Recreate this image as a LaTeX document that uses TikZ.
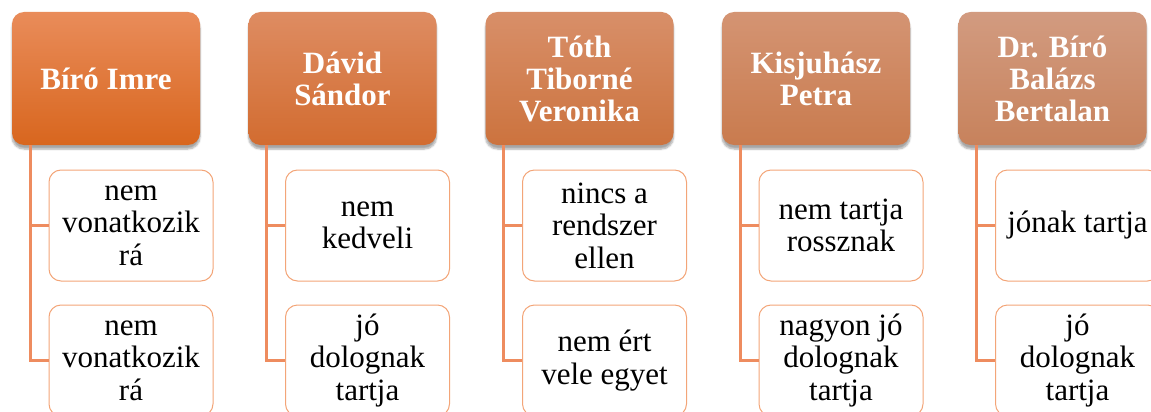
\documentclass[tikz,border=0pt]{standalone}
\usepackage{fontspec}
\setmainfont{Liberation Serif}
\usetikzlibrary{shadows.blur,calc}
\definecolor{h1t}{RGB}{233,140,90}
\definecolor{h1b}{RGB}{216,102,30}
\definecolor{h2t}{RGB}{222,140,98}
\definecolor{h2b}{RGB}{210,108,48}
\definecolor{h3t}{RGB}{216,143,105}
\definecolor{h3b}{RGB}{204,115,62}
\definecolor{h4t}{RGB}{212,148,115}
\definecolor{h4b}{RGB}{201,123,78}
\definecolor{h5t}{RGB}{210,155,128}
\definecolor{h5b}{RGB}{199,130,92}
\definecolor{leafc}{RGB}{243,165,120}
\definecolor{connc}{RGB}{238,140,95}
\begin{document}
\begin{tikzpicture}[x=1pt,y=-1pt,
  head/.style={rounded corners=12pt, minimum width=188pt, minimum height=133pt,
    text=white, font=\bfseries\fontsize{31}{32}\selectfont, align=center, inner sep=0pt,
    blur shadow={shadow xshift=0pt,shadow yshift=-4pt,shadow opacity=35,shadow blur steps=6,shadow blur extra rounding=2pt}},
  leaf/.style={draw=leafc, line width=1pt, rounded corners=12pt, fill=white,
    minimum width=164pt, minimum height=111pt, align=center, inner sep=0pt,
    font=\fontsize{31}{32.5}\selectfont, text=black},
  conn/.style={draw=connc, line width=3pt}]
\useasboundingbox (0,0) rectangle (1151,412);
\clip (0,0) rectangle (1151,412);

% headers
\node[head, top color=h1t, bottom color=h1b] (h1) at (106,78.5) {Bíró Imre};
\node[head, top color=h2t, bottom color=h2b] (h2) at (342.5,78.5) {Dávid\\Sándor};
\node[head, top color=h3t, bottom color=h3b] (h3) at (579.5,78.5) {Tóth\\Tiborné\\Veronika};
\node[head, top color=h4t, bottom color=h4b] (h4) at (816,78.5) {Kisjuhász\\Petra};
\node[head, top color=h5t, bottom color=h5b] (h5) at (1052.5,78.5) {Dr. Bíró\\Balázs\\Bertalan};

% leaves
\node[leaf] (c1a) at (131,225.5) {nem\\vonatkozik\\rá};
\node[leaf] (c1b) at (131,360.5) {nem\\vonatkozik\\rá};
\node[leaf] (c2a) at (367.5,225.5) {nem\\kedveli};
\node[leaf] (c2b) at (367.5,360.5) {jó\\dolognak\\tartja};
\node[leaf] (c3a) at (604.5,225.5) {nincs a\\rendszer\\ellen};
\node[leaf] (c3b) at (604.5,360.5) {nem ért\\vele egyet};
\node[leaf] (c4a) at (841,225.5) {nem tartja\\rossznak};
\node[leaf] (c4b) at (841,360.5) {nagyon jó\\dolognak\\tartja};
\node[leaf] (c5a) at (1077.5,225.5) {jónak tartja};
\node[leaf] (c5b) at (1077.5,360.5) {jó\\dolognak\\tartja};

% connectors
\foreach \i in {1,...,5}{
  \coordinate (s\i) at ($(h\i.south west)+(18.5,0)$);
  \draw[conn] (s\i) |- (c\i a.west);
  \draw[conn] (s\i) |- (c\i b.west);
}
\end{tikzpicture}
\end{document}
